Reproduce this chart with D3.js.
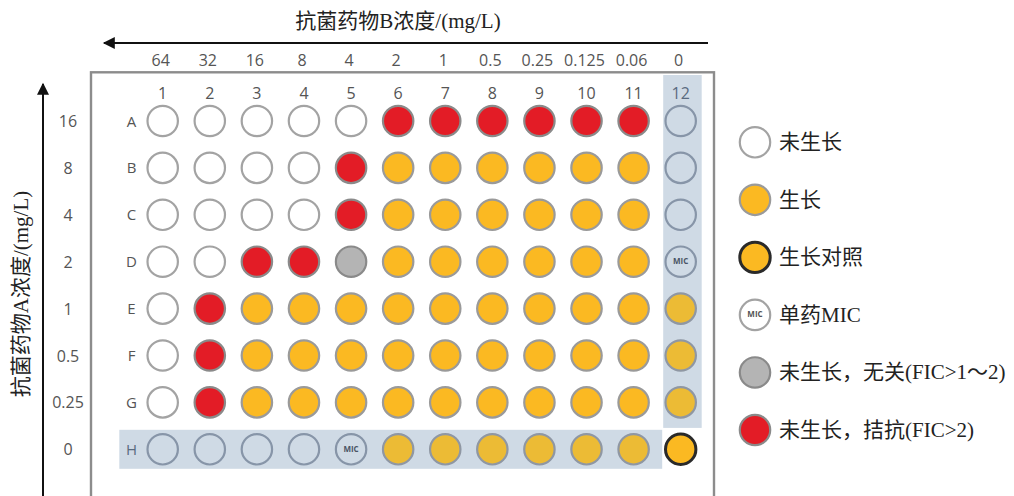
<!DOCTYPE html>
<html>
<head>
<meta charset="utf-8">
<script src="https://cdn.jsdelivr.net/npm/d3@7"></script>
<style>
  html, body { margin: 0; padding: 0; background: #fff; }
  svg { display: block; }
  .serif { font-family: "Liberation Serif", "Noto Sans CJK SC", serif; fill: #222; }
  .tick { font-family: "Liberation Sans Narrow", "Open Sans", sans-serif; fill: #555; }
</style>
</head>
<body>
<svg id="chart" width="1014" height="496"></svg>
<script>
// Drug B concentrations per plate column (mg/L)
const drugBConc = ["64", "32", "16", "8", "4", "2", "1", "0.5", "0.25", "0.125", "0.06", "0"];
// Drug A concentrations per plate row (mg/L)
const drugAConc = ["16", "8", "4", "2", "1", "0.5", "0.25", "0"];
const rowIds = ["A", "B", "C", "D", "E", "F", "G", "H"];
const colIds = [1, 2, 3, 4, 5, 6, 7, 8, 9, 10, 11, 12];

// Well outcome per row: n = no growth, g = growth, c = growth control,
// m = single-drug MIC, i = indifference (gray), a = antagonism (red)
const rowA = ["n", "n", "n", "n", "n", "a", "a", "a", "a", "a", "a", "n"];
const rowB = ["n", "n", "n", "n", "a", "g", "g", "g", "g", "g", "g", "n"];
const rowC = ["n", "n", "n", "n", "a", "g", "g", "g", "g", "g", "g", "n"];
const rowD = ["n", "n", "a", "a", "i", "g", "g", "g", "g", "g", "g", "m"];
const rowE = ["n", "a", "g", "g", "g", "g", "g", "g", "g", "g", "g", "g"];
const rowF = ["n", "a", "g", "g", "g", "g", "g", "g", "g", "g", "g", "g"];
const rowG = ["n", "a", "g", "g", "g", "g", "g", "g", "g", "g", "g", "g"];
const rowH = ["n", "n", "n", "n", "m", "g", "g", "g", "g", "g", "g", "c"];
const plateRows = [rowA, rowB, rowC, rowD, rowE, rowF, rowG, rowH];

const legendKeys = ["n", "g", "c", "m", "i", "a"];
const legendLabels = ["未生长", "生长", "生长对照", "单药MIC", "未生长，无关(FIC>1～2)", "未生长，拮抗(FIC>2)"];

const fillOf = { n: "#ffffff", g: "#fbb922", c: "#fbb922", m: "#ffffff", i: "#b4b4b4", a: "#e31e25" };
const strokeOf = { n: "#a3a3a3", g: "#9a9a9a", c: "#2a2a2a", m: "#a3a3a3", i: "#8a8a8a", a: "#8a8a8a" };

const svg = d3.select("#chart");
const defs = svg.append("defs");
defs.append("filter").attr("id", "soft").attr("x", "-20%").attr("y", "-20%").attr("width", "140%").attr("height", "140%")
  .append("feGaussianBlur").attr("stdDeviation", 0.6);
const arrow = defs.append("marker").attr("id", "head").attr("viewBox", "0 0 10 10")
  .attr("refX", 9).attr("refY", 5).attr("markerWidth", 7).attr("markerHeight", 6)
  .attr("markerUnits", "strokeWidth").attr("orient", "auto");
arrow.append("path").attr("d", "M0,0 L10,5 L0,10 Z").attr("fill", "#111");

const x = d3.scalePoint().domain(colIds).range([162.7, 680.7]);
const y = d3.scalePoint().domain(rowIds).range([121, 449.3]);
const r = 15.2;

// Plate outline
svg.append("rect").attr("x", 91).attr("y", 72.3).attr("width", 623).attr("height", 460)
  .attr("fill", "none").attr("stroke", "#8c8c8c").attr("stroke-width", 2.4).attr("filter", "url(#soft)");

// Control bands: column 12 and row H
const bandColor = "#cfdae5";
svg.append("rect").attr("x", x(12) - 17.5).attr("y", 75).attr("width", 38.5)
  .attr("height", y("G") + 25.5 - 75).attr("fill", bandColor);
svg.append("rect").attr("x", 119.3).attr("y", y("H") - 19.5).attr("width", x(12) - 18.5 - 119.3)
  .attr("height", 39).attr("fill", bandColor);

// Column numbers and row letters
svg.append("g").selectAll("text").data(colIds).join("text")
  .attr("class", "tick").attr("x", d => x(d)).attr("y", 99).attr("text-anchor", "middle")
  .attr("font-size", 16).style("fill", d => d === 12 ? "#5a6b80" : "#555").text(d => d);
svg.append("g").selectAll("text").data(rowIds).join("text")
  .attr("class", "tick").attr("x", 131.5).attr("y", d => y(d) + 5.5).attr("text-anchor", "middle")
  .attr("font-size", 15).style("fill", d => d === "H" ? "#5a6b80" : "#555").text(d => d);

// Top axis: drug B concentrations
svg.append("g").selectAll("text").data(drugBConc).join("text")
  .attr("class", "tick").attr("x", (d, i) => x(colIds[i]) - 2).attr("y", 66).attr("text-anchor", "middle")
  .attr("font-size", 16).text(d => d);
// Left axis: drug A concentrations
svg.append("g").selectAll("text").data(drugAConc).join("text")
  .attr("class", "tick").attr("x", 68).attr("y", (d, i) => y(rowIds[i]) + 6).attr("text-anchor", "middle")
  .attr("font-size", 16).text(d => d);

// Direction arrows
svg.append("line").attr("x1", 708).attr("y1", 43).attr("x2", 104).attr("y2", 43)
  .attr("stroke", "#111").attr("stroke-width", 2).attr("marker-end", "url(#head)");
svg.append("line").attr("x1", 43).attr("y1", 500).attr("x2", 43).attr("y2", 84)
  .attr("stroke", "#111").attr("stroke-width", 2).attr("marker-end", "url(#head)");

// Axis titles
svg.append("text").attr("class", "serif").attr("x", 398).attr("y", 28).attr("text-anchor", "middle")
  .attr("font-size", 21).text("抗菌药物B浓度/(mg/L)");
svg.append("text").attr("class", "serif").attr("transform", "translate(28,294) rotate(-90)")
  .attr("text-anchor", "middle").attr("font-size", 21).text("抗菌药物A浓度/(mg/L)");

// Wells
const inBand = (row, col) => row === "H" || col === 12;
const wells = [];
plateRows.forEach((vals, ri) => vals.forEach((k, ci) => wells.push({ row: rowIds[ri], col: colIds[ci], k })));

function drawWell(g, k, band) {
  let fill = fillOf[k];
  let stroke = strokeOf[k];
  if (band && (k === "n" || k === "m")) { fill = bandColor; stroke = "#8795a8"; }
  if (band && k === "g") { fill = "#ecbb36"; stroke = "#8f97a3"; }
  g.append("circle").attr("r", r).attr("fill", fill).attr("stroke", stroke)
    .attr("stroke-width", k === "c" ? 3 : 2.2).attr("filter", "url(#soft)");
  if (k === "m") {
    g.append("text").attr("y", 2.5).attr("text-anchor", "middle").attr("font-size", 8).attr("font-weight", "bold")
      .attr("font-family", "Liberation Sans Narrow, Open Sans, sans-serif").attr("fill", band ? "#4a5566" : "#555").text("MIC");
  }
}

svg.append("g").selectAll("g").data(wells).join("g")
  .attr("transform", d => `translate(${x(d.col)},${y(d.row)})`)
  .each(function (d) { drawWell(d3.select(this), d.k, inBand(d.row, d.col) && d.k !== "c"); });

// Legend
const ly = d3.scalePoint().domain(legendKeys).range([142.3, 430]);
const legend = svg.append("g").selectAll("g").data(legendKeys).join("g")
  .attr("transform", d => `translate(755,${ly(d)})`);
legend.each(function (d) { drawWell(d3.select(this), d, false); });
legend.append("text").attr("class", "serif").attr("x", 24).attr("y", 7).attr("font-size", 21)
  .text((d, i) => legendLabels[i]);
</script>
</body>
</html>
